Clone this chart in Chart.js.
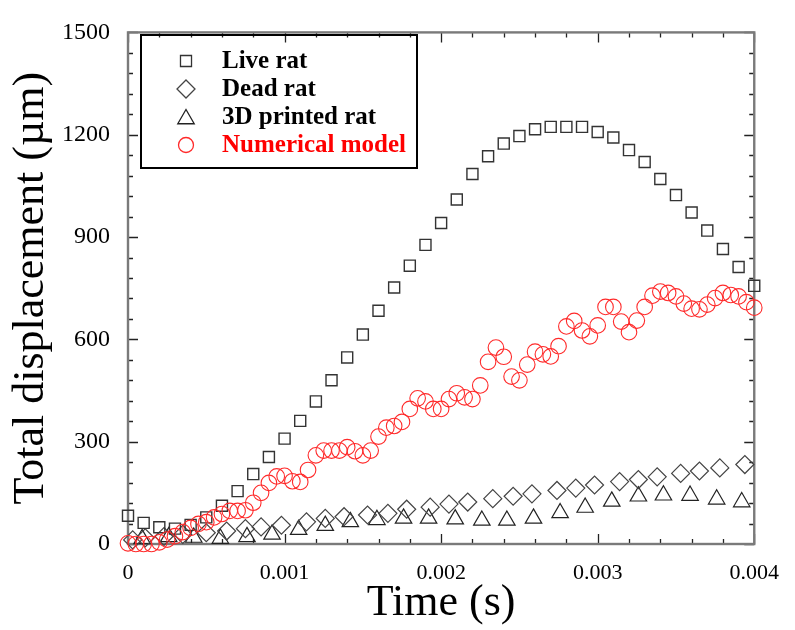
<!DOCTYPE html>
<html>
<head>
<meta charset="utf-8">
<script src="https://cdn.jsdelivr.net/npm/chart.js@4/dist/chart.umd.min.js"></script>
<style>
    body { margin: 0; background: #fff; }
    #wrap { width: 795px; height: 630px; }
</style>
</head>
<body>
<div id="wrap"><canvas id="myChart" width="795" height="630"></canvas></div>
<script>
// Live rat (squares), one point every 0.1 ms
const timeLive = [0, 0.0001, 0.0002, 0.0003, 0.0004, 0.0005, 0.0006, 0.0007, 0.0008, 0.0009,
    0.001, 0.0011, 0.0012, 0.0013, 0.0014, 0.0015, 0.0016, 0.0017, 0.0018, 0.0019,
    0.002, 0.0021, 0.0022, 0.0023, 0.0024, 0.0025, 0.0026, 0.0027, 0.0028, 0.0029,
    0.003, 0.0031, 0.0032, 0.0033, 0.0034, 0.0035, 0.0036, 0.0037, 0.0038, 0.0039, 0.004];
const liveDisp = [83, 62, 49, 45, 56, 78, 112, 155, 205, 255,
    309, 361, 418, 480, 547, 614, 684, 752, 816, 877,
    941, 1010, 1085, 1137, 1174, 1196, 1216, 1223, 1223, 1223,
    1208, 1192, 1155, 1120, 1070, 1023, 972, 919, 865, 812, 757];

// Dead rat (diamonds)
const timeDead = [0.00003, 0.00011, 0.00023, 0.00035, 0.0005, 0.00063, 0.00075, 0.00085, 0.00098, 0.00114,
    0.00126, 0.00138, 0.00153, 0.00166, 0.00178, 0.00193, 0.00205, 0.00217, 0.00233, 0.00246,
    0.00258, 0.00274, 0.00286, 0.00298, 0.00314, 0.00326, 0.00338, 0.00353, 0.00365, 0.00378, 0.00394];
const deadDisp = [12, 18, 22, 28, 33, 38, 45, 50, 55, 65,
    75, 80, 85, 90, 102, 108, 117, 123, 133, 140,
    147, 157, 164, 173, 183, 189, 197, 207, 214, 223, 233];

// 3D printed rat (triangles)
const timePrinted = [0.00009, 0.00026, 0.00042, 0.00059, 0.00076, 0.00092, 0.00109, 0.00126, 0.00142, 0.00159,
    0.00176, 0.00192, 0.00209, 0.00226, 0.00242, 0.00259, 0.00276, 0.00292, 0.00309, 0.00326,
    0.00342, 0.00359, 0.00376, 0.00392];
const printedDisp = [15, 21, 19, 16, 21, 28, 42, 54, 65, 71,
    75, 75, 73, 69, 69, 75, 91, 107, 125, 140,
    143, 142, 131, 123];

// Numerical model (circles), one point every 0.05 ms
const timeModel = [0, 0.00005, 0.0001, 0.00015, 0.0002, 0.00025, 0.0003, 0.00035, 0.0004, 0.00045,
    0.0005, 0.00055, 0.0006, 0.00065, 0.0007, 0.00075, 0.0008, 0.00085, 0.0009, 0.00095,
    0.001, 0.00105, 0.0011, 0.00115, 0.0012, 0.00125, 0.0013, 0.00135, 0.0014, 0.00145,
    0.0015, 0.00155, 0.0016, 0.00165, 0.0017, 0.00175, 0.0018, 0.00185, 0.0019, 0.00195,
    0.002, 0.00205, 0.0021, 0.00215, 0.0022, 0.00225, 0.0023, 0.00235, 0.0024, 0.00245,
    0.0025, 0.00255, 0.0026, 0.00265, 0.0027, 0.00275, 0.0028, 0.00285, 0.0029, 0.00295,
    0.003, 0.00305, 0.0031, 0.00315, 0.0032, 0.00325, 0.0033, 0.00335, 0.0034, 0.00345,
    0.0035, 0.00355, 0.0036, 0.00365, 0.0037, 0.00375, 0.0038, 0.00385, 0.0039, 0.00395, 0.004];
const modelDisp = [2, 0, 0, 0, 5, 13, 23, 35, 47, 59,
    64, 78, 88, 97, 97, 99, 121, 150, 179, 198,
    200, 184, 182, 217, 260, 274, 274, 274, 284, 272,
    260, 274, 315, 341, 346, 358, 396, 427, 418, 396,
    396, 425, 442, 430, 425, 465, 534, 576, 549, 491,
    480, 526, 564, 556, 550, 580, 638, 654, 626, 609,
    641, 695, 695, 652, 621, 655, 695, 728, 740, 736,
    726, 705, 690, 688, 702, 721, 736, 730, 726, 709, 693];

// tick labels
const xTickLabels = ['0', '0.001', '0.002', '0.003', '0.004'];
const yTickLabels = ['0', '300', '600', '900', '1200', '1500'];

const seriesNames = ['Live rat', 'Dead rat', '3D printed rat', 'Numerical model'];

const serif = "'Liberation Serif', 'Times New Roman', serif";

function toPoints(xs, ys) {
    return xs.map((x, i) => ({ x: x, y: ys[i] }));
}

// draws one marker shape, used by the legend box
function marker(ctx, style, x, y, r, color) {
    ctx.save();
    ctx.strokeStyle = color;
    ctx.lineWidth = 1.3;
    ctx.beginPath();
    if (style === 'rect') {
        const s = Math.SQRT1_2 * r;
        ctx.rect(x - s, y - s, 2 * s, 2 * s);
    } else if (style === 'rectRot') {
        ctx.moveTo(x, y - r); ctx.lineTo(x + r, y); ctx.lineTo(x, y + r); ctx.lineTo(x - r, y);
        ctx.closePath();
    } else if (style === 'triangle') {
        let a = 0;
        ctx.moveTo(x + Math.sin(a) * r, y - Math.cos(a) * r);
        a += Math.PI * 2 / 3;
        ctx.lineTo(x + Math.sin(a) * r, y - Math.cos(a) * r);
        a += Math.PI * 2 / 3;
        ctx.lineTo(x + Math.sin(a) * r, y - Math.cos(a) * r);
        ctx.closePath();
    } else {
        ctx.arc(x, y, r, 0, Math.PI * 2);
    }
    ctx.stroke();
    ctx.restore();
}

// frame with inward ticks on all four sides
const frameTicks = {
    id: 'frameTicks',
    beforeDatasetsDraw(chart) {
        const { ctx, chartArea: a, scales } = chart;
        ctx.save();
        ctx.strokeStyle = '#222';
        ctx.lineWidth = 1.3;
        ctx.beginPath();
        for (let v = 0; v <= 0.004 + 1e-9; v += 0.0002) {
            const px = Math.round(scales.x.getPixelForValue(v)) + 0.5;
            const major = Math.abs(v / 0.001 - Math.round(v / 0.001)) < 1e-6;
            const len = major ? 10 : 5;
            ctx.moveTo(px, a.bottom); ctx.lineTo(px, a.bottom - len);
            ctx.moveTo(px, a.top); ctx.lineTo(px, a.top + len);
        }
        for (let v = 0; v <= 1500; v += 60) {
            const py = Math.round(scales.y.getPixelForValue(v)) + 0.5;
            const len = v % 300 === 0 ? 10 : 5;
            ctx.moveTo(a.left, py); ctx.lineTo(a.left + len, py);
            ctx.moveTo(a.right, py); ctx.lineTo(a.right - len, py);
        }
        ctx.stroke();
        ctx.strokeStyle = '#7a7a7a';
        ctx.lineWidth = 2.4;
        ctx.strokeRect(a.left, a.top, a.right - a.left, a.bottom - a.top);
        ctx.restore();
    },
    afterDraw(chart) {
        const ctx = chart.ctx;
        ctx.save();
        ctx.strokeStyle = '#000';
        ctx.lineWidth = 2;
        ctx.strokeRect(141, 35, 276, 133);
        const styles = ['rect', 'rectRot', 'triangle', 'circle'];
        const radii = [7.8, 9, 9.5, 7.5];
        const colors = ['#333', '#444', '#222', '#ff2a2a'];
        ctx.font = 'bold 25px ' + serif;
        ctx.textBaseline = 'middle';
        ctx.textAlign = 'left';
        for (let i = 0; i < 4; i++) {
            const y = 61 + i * 28;
            marker(ctx, styles[i], 186, i === 2 ? y + 2 : y, radii[i], colors[i]);
            ctx.fillStyle = i === 3 ? '#ff0000' : '#000';
            ctx.fillText(seriesNames[i], 222, y + 1);
        }
        ctx.restore();
    }
};

const ctx = document.getElementById('myChart');
const chart = new Chart(ctx, {
    type: 'scatter',
    data: {
        datasets: [
            {
                label: seriesNames[3],
                data: toPoints(timeModel, modelDisp),
                pointStyle: 'circle',
                pointRadius: 7.8,
                borderColor: '#ff2a2a',
                backgroundColor: 'rgba(0,0,0,0)',
                borderWidth: 1.1,
                clip: false
            },
            {
                label: seriesNames[0],
                data: toPoints(timeLive, liveDisp),
                pointStyle: 'rect',
                pointRadius: 7.8,
                borderColor: '#333',
                backgroundColor: 'rgba(0,0,0,0)',
                borderWidth: 1.4,
                clip: false
            },
            {
                label: seriesNames[1],
                data: toPoints(timeDead, deadDisp),
                pointStyle: 'rectRot',
                pointRadius: 9,
                borderColor: '#444',
                backgroundColor: 'rgba(0,0,0,0)',
                borderWidth: 1.2,
                clip: false
            },
            {
                label: seriesNames[2],
                data: toPoints(timePrinted, printedDisp),
                pointStyle: 'triangle',
                pointRadius: 9.5,
                borderColor: '#222',
                backgroundColor: 'rgba(0,0,0,0)',
                borderWidth: 1.2,
                clip: false
            }
        ]
    },
    options: {
        responsive: false,
        animation: false,
        layout: { padding: { left: 0, top: 21, right: 32, bottom: 0 } },
        plugins: {
            legend: { display: false },
            tooltip: { enabled: false }
        },
        scales: {
            x: {
                type: 'linear',
                min: 0,
                max: 0.004,
                afterFit: (s) => { s.height = 86; },
                grid: { display: false, drawTicks: false },
                border: { display: false },
                ticks: {
                    stepSize: 0.001,
                    padding: 16,
                    color: '#000',
                    font: { family: serif, size: 22 },
                    callback: (v) => xTickLabels[Math.round(v / 0.001)]
                },
                title: {
                    display: true,
                    text: 'Time (s)',
                    color: '#000',
                    font: { family: serif, size: 44 },
                    padding: { top: 0, bottom: 0 }
                }
            },
            y: {
                min: 0,
                max: 1500,
                afterFit: (s) => { s.width = 128; },
                grid: { display: false, drawTicks: false },
                border: { display: false },
                ticks: {
                    stepSize: 300,
                    padding: 18,
                    color: '#000',
                    font: { family: serif, size: 24 },
                    callback: (v) => yTickLabels[Math.round(v / 300)]
                },
                title: {
                    display: true,
                    text: 'Total displacement (µm)',
                    color: '#000',
                    font: { family: serif, size: 44 },
                    padding: { top: 5, bottom: 0 }
                }
            }
        }
    },
    plugins: [frameTicks]
});
</script>
</body>
</html>
